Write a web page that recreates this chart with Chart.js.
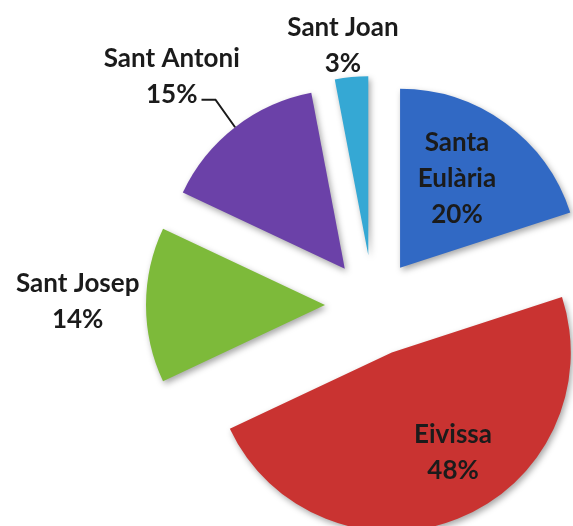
<!DOCTYPE html>
<html>
<head>
<meta charset="utf-8">
<script src="https://cdn.jsdelivr.net/npm/chart.js@4/dist/chart.umd.min.js"></script>
<style>
html,body{margin:0;padding:0;background:#ffffff;}
canvas{display:block;}
</style>
</head>
<body>
<canvas id="c" width="573" height="526"></canvas>
<script>
// Data
const categories = ["Santa Eulària", "Eivissa", "Sant Josep", "Sant Antoni", "Sant Joan"];
const percentages = [20, 48, 14, 15, 3];
const labelNames = [["Santa", "Eulària"], ["Eivissa"], ["Sant Josep"], ["Sant Antoni"], ["Sant Joan"]];

// Styles
const sliceColors = ["#3169C4", "#C93331", "#7DBA3A", "#6B41A8", "#35A8D4"];
const sliceOffsets = [46, 51, 48, 46, 50]; // explode distance in px
// label placement relative to pie center: distance factor of radius, angle shift (deg)
const labelPlace = [
  {k: 0.85, da: -2.5},
  {k: 0.94, da: -6.8},
  {k: 1.65, da: 0.6},
  {k: 1.70, da: -3.6},
  {k: 1.46, da: -1.2}
];
const FONT = "bold 26px Lato";
const LINE_H = 36;

const explodePlugin = {
  id: 'explode',
  beforeDatasetDraw(chart, args) {
    const ctx = chart.ctx;
    const meta = args.meta;
    meta.data.forEach((arc, i) => {
      const p = arc.getProps(['startAngle', 'endAngle'], true);
      const mid = (p.startAngle + p.endAngle) / 2;
      ctx.save();
      ctx.shadowColor = 'rgba(0,0,0,0.35)';
      ctx.shadowBlur = 6;
      ctx.shadowOffsetX = 2;
      ctx.shadowOffsetY = 3;
      ctx.translate(Math.cos(mid) * sliceOffsets[i], Math.sin(mid) * sliceOffsets[i]);
      arc.draw(ctx, chart.chartArea);
      ctx.restore();
    });
    return false;
  }
};

const labelPlugin = {
  id: 'labels',
  afterDatasetsDraw(chart) {
    const ctx = chart.ctx;
    const meta = chart.getDatasetMeta(0);
    ctx.save();
    ctx.font = FONT;
    ctx.fillStyle = '#1b1b1b';
    ctx.textAlign = 'center';
    ctx.textBaseline = 'middle';
    meta.data.forEach((arc, i) => {
      const p = arc.getProps(['x', 'y', 'startAngle', 'endAngle', 'outerRadius'], true);
      const mid = (p.startAngle + p.endAngle) / 2;
      const a = mid + labelPlace[i].da * Math.PI / 180;
      const d = labelPlace[i].k * p.outerRadius;
      const cx = p.x + Math.cos(a) * d;
      const cy = p.y + Math.sin(a) * d;
      const lines = labelNames[i].concat([percentages[i] + '%']);
      const top = cy - (lines.length - 1) * LINE_H / 2;
      lines.forEach((t, j) => ctx.fillText(t, cx, top + j * LINE_H));
      if (i === 3) {
        const lastY = top + (lines.length - 1) * LINE_H;
        const w = ctx.measureText(lines[lines.length - 1]).width;
        const sx = cx + w / 2 + 4;
        const sy = lastY + 5;
        const off = sliceOffsets[i];
        const ex = p.x + Math.cos(mid) * (off + p.outerRadius);
        const ey = p.y + Math.sin(mid) * (off + p.outerRadius);
        ctx.beginPath();
        ctx.strokeStyle = '#1b1b1b';
        ctx.lineWidth = 2;
        ctx.moveTo(sx, sy);
        ctx.lineTo(sx + 14, sy);
        ctx.lineTo(ex, ey);
        ctx.stroke();
      }
    });
    ctx.restore();
  }
};

new Chart(document.getElementById('c'), {
  type: 'pie',
  data: {
    labels: categories,
    datasets: [{
      data: percentages,
      backgroundColor: sliceColors,
      borderWidth: 0,
      offset: 0,
      hoverOffset: 0,
      clip: false
    }]
  },
  options: {
    responsive: false,
    animation: false,
    radius: 179,
    layout: {padding: {left: 200, right: 27, top: 84, bottom: 0}},
    plugins: {legend: {display: false}, tooltip: {enabled: false}, title: {display: false}}
  },
  plugins: [explodePlugin, labelPlugin]
});
</script>
</body>
</html>
